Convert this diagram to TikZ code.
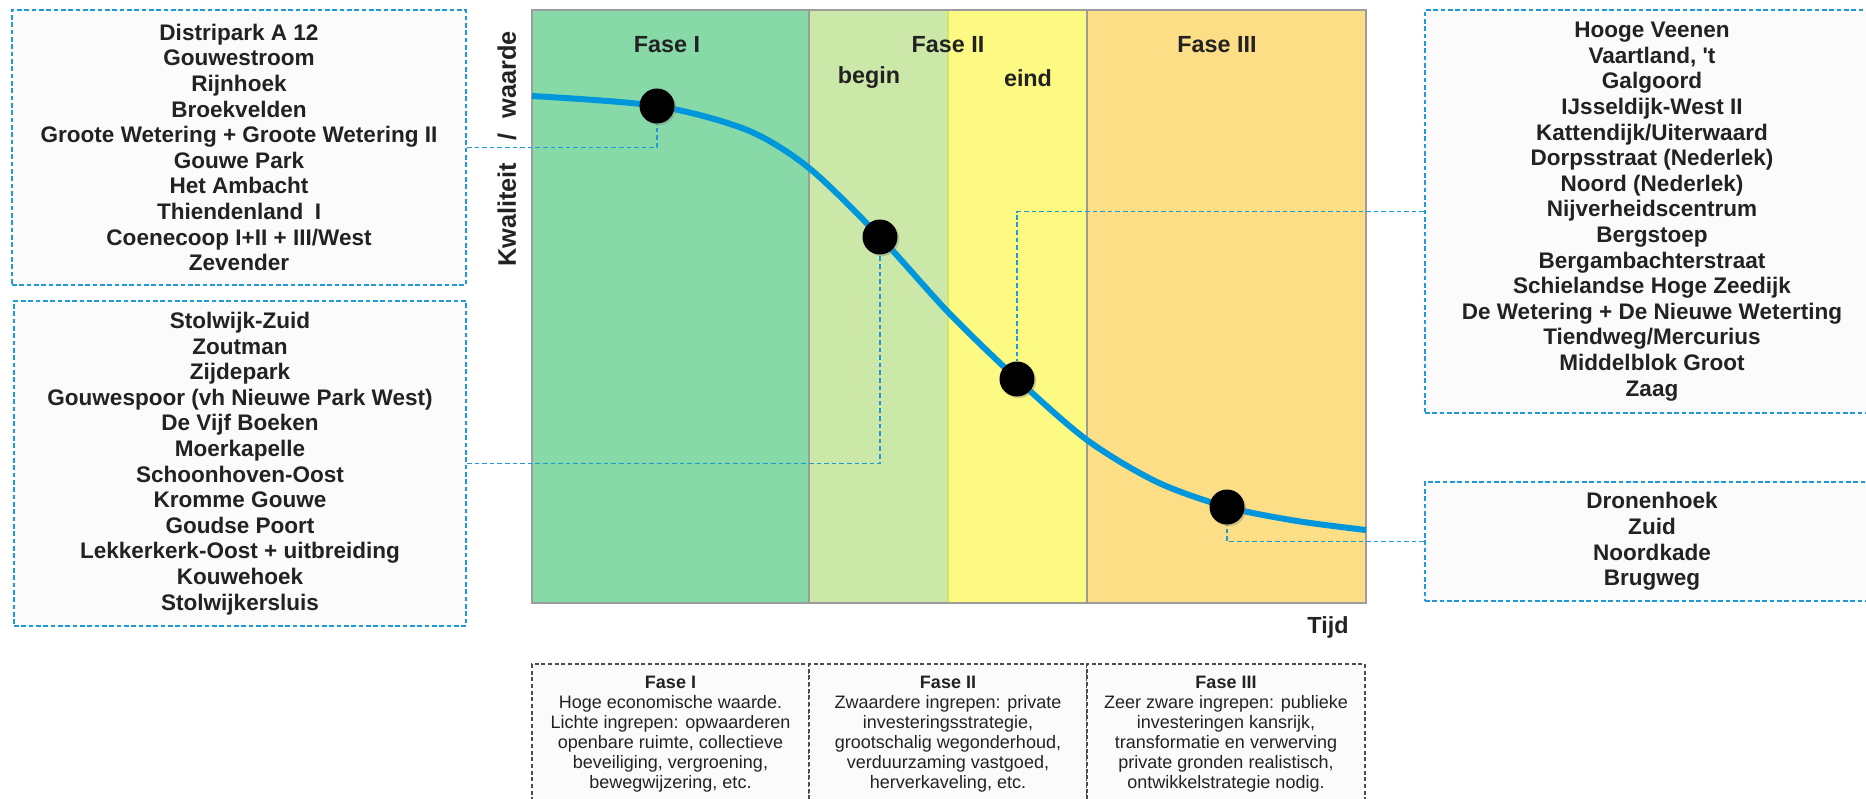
\documentclass[tikz,border=0pt]{standalone}
\usepackage{fontspec}
\setmainfont{Liberation Sans}
\usetikzlibrary{shadows}
\pgfdeclarelayer{bg}
\pgfsetlayers{bg,main}
\definecolor{gOne}{HTML}{87D9A7}
\definecolor{gTwo}{HTML}{CBE8A9}
\definecolor{ylw}{HTML}{FCFA82}
\definecolor{orn}{HTML}{FCDE87}
\definecolor{crv}{HTML}{0096DB}
\definecolor{cnc}{HTML}{1E9AD8}
\definecolor{brd}{HTML}{9C9C9C}
\definecolor{sep}{HTML}{D4E466}
\definecolor{txc}{HTML}{222222}
\begin{document}
\begin{tikzpicture}[x=0.75pt,y=-0.75pt,
  listbox/.style={draw=cnc, line width=1.4pt, dash pattern=on 3.5pt off 2pt, fill=black!1.5, text=txc,
    font=\fontsize{16.9}{19.2}\selectfont\bfseries, align=center, inner sep=0pt},
  conn/.style={draw=cnc, line width=1pt, dash pattern=on 3.5pt off 2.2pt},
  dotnode/.style={circle, fill=black, minimum size=26.25pt, inner sep=0pt,
    drop shadow={shadow xshift=1.3pt, shadow yshift=-1.3pt, opacity=0.35}},
  phaselbl/.style={font=\fontsize{17.5}{20}\selectfont\bfseries, text=txc, inner sep=0pt},
  infobox/.style={draw=black!70, line width=0.8pt, dash pattern=on 3pt off 2pt, fill=black!1.5, inner sep=0pt},
  infotext/.style={font=\fontsize{13.5}{15}\selectfont, text=txc, align=center, inner sep=0pt},
]
\useasboundingbox (0,0) rectangle (1866,799);
\clip (0,0) rectangle (1866,799);

% dots on the curve
\node[dotnode] (d1) at (657,106) {};
\node[dotnode] (d2) at (880,237) {};
\node[dotnode] (d3) at (1017,379) {};
\node[dotnode] (d4) at (1227,507) {};

% list boxes
\node[listbox, minimum width=340.5pt, minimum height=206.25pt] (tl) at (239,147.5)
  {Distripark A 12\\Gouwestroom\\Rijnhoek\\Broekvelden\\Groote Wetering + Groote Wetering II\\Gouwe Park\\Het Ambacht\\Thiendenland\enspace I\\Coenecoop I+II + III/West\\Zevender};
\node[listbox, minimum width=339pt, minimum height=243.75pt] (ml) at (240,463.5)
  {Stolwijk-Zuid\\Zoutman\\Zijdepark\\Gouwespoor (vh Nieuwe Park West)\\De Vijf Boeken\\Moerkapelle\\Schoonhoven-Oost\\Kromme Gouwe\\Goudse Poort\\Lekkerkerk-Oost + uitbreiding\\Kouwehoek\\Stolwijkersluis};
\node[listbox, minimum width=340.5pt, minimum height=302.25pt] (tr) at (1652,211.5)
  {Hooge Veenen\\Vaartland, \textquotesingle t\\Galgoord\\IJsseldijk-West II\\Kattendijk/Uiterwaard\\Dorpsstraat (Nederlek)\\Noord (Nederlek)\\Nijverheidscentrum\\Bergstoep\\Bergambachterstraat\\Schielandse Hoge Zeedijk\\De Wetering + De Nieuwe Weterting\\Tiendweg/Mercurius\\Middelblok Groot\\Zaag};
\node[listbox, minimum width=340.5pt, minimum height=89.25pt] (br) at (1652,541.5)
  {Dronenhoek\\Zuid\\Noordkade\\Brugweg};

\begin{pgfonlayer}{bg}
  % phase bands
  \fill[gOne] (532,10) rectangle (809,603);
  \fill[gTwo] (809,10) rectangle (948,603);
  \fill[ylw] (948,10) rectangle (1087,603);
  \fill[orn] (1087,10) rectangle (1366,603);
  \draw[brd, line width=1pt] (809,10) -- (809,603);
  \draw[brd, line width=1pt] (1087,10) -- (1087,603);
  \draw[sep, line width=0.9pt] (948,10) -- (948,603);
  \draw[brd, line width=1.6pt] (532,10) rectangle (1366,603);
  % connectors
  \draw[conn] (tl.east) -| (d1.south);
  \draw[conn] (ml.east) -| (d2.south);
  \draw[conn] (tr.west) -| (d3.north);
  \draw[conn] (br.west) -| (d4.south);
  % curve
  \draw[crv, line width=4.5pt] plot[smooth, tension=0.5] coordinates
    {(532,96) (657,106) (747,130) (809,168) (880,237) (948,312) (1017,379) (1087,440) (1157,482) (1227,507) (1297,521) (1366,530)};
\end{pgfonlayer}

% chart labels
\node[phaselbl] (fI) at (667,45) {Fase I};
\node[phaselbl] (fII) at (948,45) {Fase II};
\node[phaselbl] (fbeg) at (869,78) {begin};
\node[phaselbl] (feind) at (1028,78) {eind};
\node[phaselbl] (fIII) at (1217,45) {Fase III};
\node[phaselbl, font=\fontsize{19}{22}\selectfont\bfseries, rotate=90] (ylab) at (507,149)
  {Kwaliteit\hspace{17pt}/\hspace{11pt}waarde};
\node[phaselbl] (xlab) at (1328,627) {Tijd};

% bottom info boxes
\node[infobox, minimum width=207.75pt, minimum height=124.5pt] (b1) at (670.5,747) {};
\node[infobox, minimum width=208.5pt, minimum height=124.5pt] (b2) at (948,747) {};
\node[infobox, minimum width=208.5pt, minimum height=124.5pt] (b3) at (1226,747) {};
\node[infotext] (t1) at (670.5,734)
  {\textbf{Fase I}\\Hoge economische waarde.\\Lichte ingrepen: opwaarderen\\openbare ruimte, collectieve\\beveiliging, vergroening,\\bewegwijzering, etc.};
\node[infotext] (t2) at (948,734)
  {\textbf{Fase II}\\Zwaardere ingrepen: private\\investeringsstrategie,\\grootschalig wegonderhoud,\\verduurzaming vastgoed,\\herverkaveling, etc.};
\node[infotext] (t3) at (1226,734)
  {\textbf{Fase III}\\Zeer zware ingrepen: publieke\\investeringen kansrijk,\\transformatie en verwerving\\private gronden realistisch,\\ontwikkelstrategie nodig.};
\end{tikzpicture}
\end{document}
